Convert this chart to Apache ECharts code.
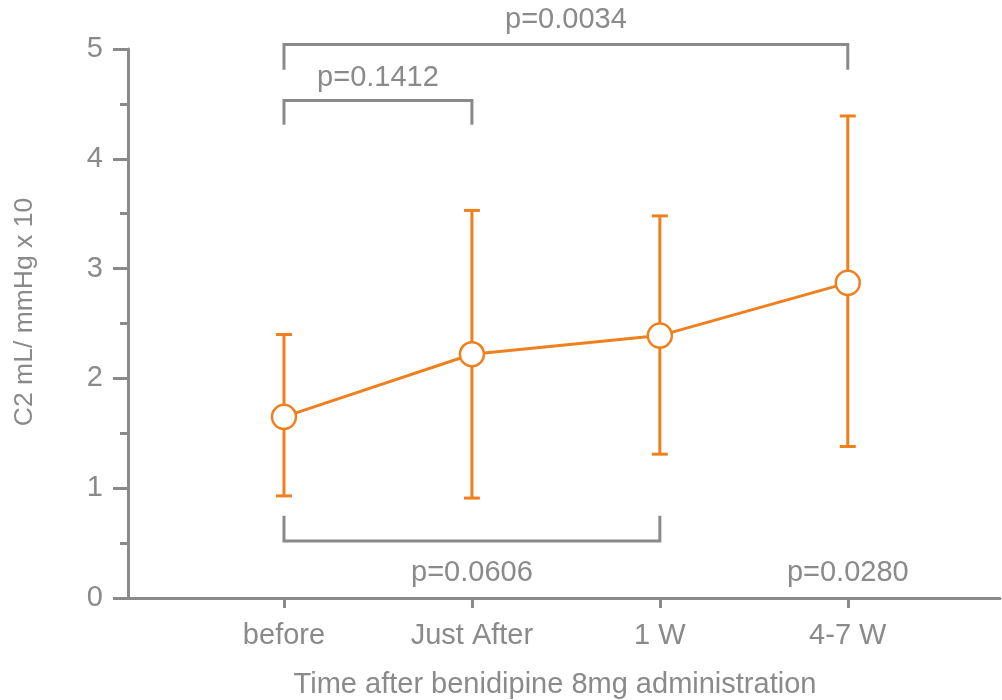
<!DOCTYPE html>
<html>
<head>
<meta charset="utf-8">
<title>C2 after benidipine</title>
<script src="https://cdn.jsdelivr.net/npm/echarts@6/dist/echarts.min.js"></script>
<style>
  html, body { margin: 0; padding: 0; background: #fff; }
  #chart { width: 1002px; height: 700px; }
</style>
</head>
<body>
<div id="chart"></div>
<script>
// Time points after benidipine 8mg administration
const categories = ['before', 'Just After', '1 W', '4-7 W'];
const positions = [1, 2, 3, 4];

// C2 (mL/mmHg x 10): mean with lower / upper error bar ends
const meanValues = [1.65, 2.22, 2.39, 2.87];
const lowerValues = [0.93, 0.91, 1.31, 1.38];
const upperValues = [2.40, 3.53, 3.48, 4.39];

// Significance brackets (x from, x to, bar level, end level)
const bracketFrom = [1, 1, 1];
const bracketTo = [4, 2, 3];
const bracketBar = [5.04, 4.53, 0.52];
const bracketEnd = [4.81, 4.31, 0.75];

// p-value annotations
const pTexts = ['p=0.0034', 'p=0.1412', 'p=0.0606', 'p=0.0280'];
const pX = [2.5, 1.5, 2, 4];
const pY = [5.26, 4.74, 0.23, 0.23];

const yTicks = [0, 1, 2, 3, 4, 5];

const GREY = '#8a8a8a';
const ORANGE = '#f0801e';
const FONT = 'Liberation Sans, Arial, Helvetica, sans-serif';

const chart = echarts.init(document.getElementById('chart'));

const lineData = positions.map((x, i) => [x, meanValues[i]]);
const errData = positions.map((x, i) => [x, lowerValues[i], upperValues[i]]);
const bracketData = bracketFrom.map((f, i) => [f, bracketTo[i], bracketBar[i], bracketEnd[i]]);
const pData = pTexts.map((t, i) => [pX[i], pY[i], t]);

chart.setOption({
  animation: false,
  backgroundColor: '#ffffff',
  grid: { left: 128, right: 2, top: 49, bottom: 102, containLabel: false },
  xAxis: {
    type: 'value',
    min: 0.17,
    max: 4.81,
    splitLine: { show: false },
    axisLine: { show: true, lineStyle: { color: GREY, width: 3 } },
    axisTick: {
      show: true, customValues: positions, length: 10,
      lineStyle: { color: GREY, width: 3 }
    },
    axisLabel: {
      customValues: positions,
      margin: 23,
      color: GREY, fontSize: 29, fontFamily: FONT,
      formatter: v => categories[Math.round(v) - 1] || ''
    }
  },
  yAxis: {
    type: 'value',
    min: yTicks[0],
    max: yTicks[yTicks.length - 1],
    interval: 1,
    splitLine: { show: false },
    axisLine: { show: true, lineStyle: { color: GREY, width: 3 } },
    axisTick: { show: true, length: 15, lineStyle: { color: GREY, width: 3 } },
    minorTick: { show: true, splitNumber: 2, length: 8, lineStyle: { color: GREY, width: 3 } },
    minorSplitLine: { show: false },
    axisLabel: { margin: 25, color: GREY, fontSize: 29, fontFamily: FONT }
  },
  graphic: [
    {
      type: 'text', x: 555, y: 685,
      style: {
        text: 'Time after benidipine 8mg administration',
        fill: GREY, font: '29px ' + FONT,
        textAlign: 'center', textVerticalAlign: 'middle'
      }
    },
    {
      type: 'text', x: 25, y: 312, rotation: Math.PI / 2,
      style: {
        text: 'C2 mL/ mmHg x 10',
        fill: GREY, font: '26.5px ' + FONT,
        textAlign: 'center', textVerticalAlign: 'middle'
      }
    }
  ],
  series: [
    {
      // significance brackets
      type: 'custom',
      data: bracketData,
      encode: { x: [0, 1], y: [2, 3] },
      silent: true,
      z: 1,
      renderItem: (params, api) => {
        const a = api.coord([api.value(0), api.value(3)]);
        const b = api.coord([api.value(0), api.value(2)]);
        const c = api.coord([api.value(1), api.value(2)]);
        const d = api.coord([api.value(1), api.value(3)]);
        return {
          type: 'polyline',
          shape: { points: [a, b, c, d] },
          style: { stroke: GREY, lineWidth: 3, fill: null }
        };
      }
    },
    {
      // p-value labels
      type: 'custom',
      data: pData,
      encode: { x: 0, y: 1 },
      silent: true,
      z: 1,
      renderItem: (params, api) => {
        const p = api.coord([api.value(0), api.value(1)]);
        return {
          type: 'text',
          x: p[0], y: p[1],
          style: {
            text: pData[params.dataIndex][2],
            fill: GREY, font: '29px ' + FONT,
            textAlign: 'center', textVerticalAlign: 'middle'
          }
        };
      }
    },
    {
      // error bars
      type: 'custom',
      data: errData,
      encode: { x: 0, y: [1, 2] },
      silent: true,
      z: 2,
      renderItem: (params, api) => {
        const x = api.value(0);
        const lo = api.coord([x, api.value(1)]);
        const hi = api.coord([x, api.value(2)]);
        const hw = 8;
        const st = { stroke: ORANGE, lineWidth: 3 };
        return {
          type: 'group',
          children: [
            { type: 'line', shape: { x1: lo[0], y1: lo[1], x2: hi[0], y2: hi[1] }, style: st },
            { type: 'line', shape: { x1: hi[0] - hw, y1: hi[1], x2: hi[0] + hw, y2: hi[1] }, style: st },
            { type: 'line', shape: { x1: lo[0] - hw, y1: lo[1], x2: lo[0] + hw, y2: lo[1] }, style: st }
          ]
        };
      }
    },
    {
      // mean values
      type: 'line',
      data: lineData,
      z: 3,
      symbol: 'circle',
      symbolSize: 24,
      showSymbol: true,
      lineStyle: { color: ORANGE, width: 3 },
      itemStyle: { color: '#ffffff', borderColor: ORANGE, borderWidth: 2.5 }
    }
  ]
});
</script>
</body>
</html>
